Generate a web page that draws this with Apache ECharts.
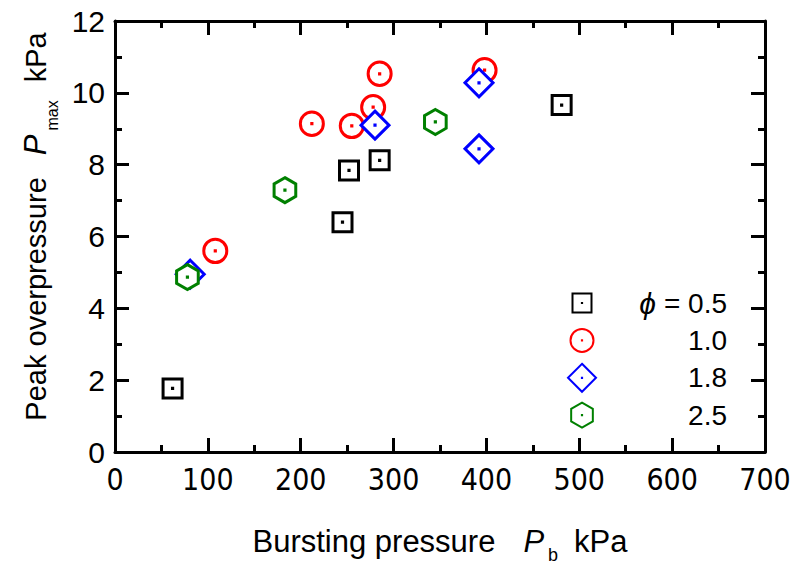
<!DOCTYPE html>
<html>
<head>
<meta charset="utf-8">
<script src="https://cdn.jsdelivr.net/npm/echarts@6/dist/echarts.min.js"></script>
<style>
  html, body { margin: 0; padding: 0; background: #fff; }
  #chart { width: 801px; height: 565px; }
</style>
</head>
<body>
<div id="chart"></div>
<script>
// Peak overpressure vs. bursting pressure, grouped by equivalence ratio phi
const phiLabels = ['0.5', '1.0', '1.8', '2.5'];

const burst05 = [62, 245, 252, 285, 481];
const peak05  = [1.77, 6.40, 7.84, 8.12, 9.66];

const burst10 = [108, 212, 255, 278, 285, 398];
const peak10  = [5.60, 9.14, 9.08, 9.60, 10.53, 10.63];

const burst18 = [81, 280, 392, 392];
const peak18  = [4.95, 9.10, 10.28, 8.44];

const burst25 = [78, 183, 345];
const peak25  = [4.87, 7.29, 9.19];

const xTicks = { min: 0, max: 700, step: 100 };
const yTicks = { min: 0, max: 12, step: 2 };

// Marker outlines share a fixed 32x32 frame (the two leading move-to points),
// so every shape keeps its own size; the tiny inner square becomes the centre dot.
const FRAME = 'M0,0 M32,32 ';
const DOT = ' M15.9,15.9 L16.1,15.9 L16.1,16.1 L15.9,16.1 Z';
const symSquare  = 'path://' + FRAME + 'M6.5,6.5 L25.5,6.5 L25.5,25.5 L6.5,25.5 Z' + DOT;
const symCircle  = 'path://' + FRAME + 'M4.5,16 A11.5,11.5 0 1 1 27.5,16 A11.5,11.5 0 1 1 4.5,16 Z' + DOT;
const symDiamond = 'path://' + FRAME + 'M16,2 L30,16 L16,30 L2,16 Z' + DOT;
const symHexagon = 'path://' + FRAME + 'M16,3.5 L26.83,9.75 L26.83,22.25 L16,28.5 L5.17,22.25 L5.17,9.75 Z' + DOT;

const groups = [
  { name: phiLabels[0], x: burst05, y: peak05, color: '#000000', symbol: symSquare },
  { name: phiLabels[1], x: burst10, y: peak10, color: '#ff0000', symbol: symCircle },
  { name: phiLabels[2], x: burst18, y: peak18, color: '#0000ff', symbol: symDiamond },
  { name: phiLabels[3], x: burst25, y: peak25, color: '#008000', symbol: symHexagon }
];

const SANS = "'Liberation Sans', Arial, sans-serif";
const NARROW = "'Liberation Sans Narrow', 'DejaVu Sans Condensed', sans-serif";

function axisCommon(showLabel, isX) {
  return {
    type: 'value',
    min: isX ? xTicks.min : yTicks.min,
    max: isX ? xTicks.max : yTicks.max,
    interval: isX ? xTicks.step : yTicks.step,
    axisLine: { show: true, onZero: false, lineStyle: { color: '#000', width: 3 } },
    axisTick: { show: true, inside: true, length: 14, lineStyle: { color: '#000', width: 3 } },
    minorTick: { show: true, splitNumber: 2, length: 7, lineStyle: { color: '#000', width: 3 } },
    splitLine: { show: false },
    minorSplitLine: { show: false },
    axisLabel: { show: showLabel, color: '#000', fontSize: 30, fontFamily: isX ? NARROW : SANS, margin: isX ? 12 : 10 }
  };
}

const chart = echarts.init(document.getElementById('chart'), null, { renderer: 'svg' });

chart.setOption({
  animation: false,
  backgroundColor: '#fff',
  grid: { left: 115, right: 36, top: 21, bottom: 113, containLabel: false, outerBoundsMode: 'none' },
  xAxis: [
    Object.assign(axisCommon(true, true), {
      position: 'bottom',
      name: '{n|Bursting pressure}{i|P}{s|b}{k|kPa}',
      nameLocation: 'middle',
      nameGap: 66,
      nameTextStyle: {
        color: '#000',
        rich: {
          n: { fontSize: 31, fontFamily: SANS, lineHeight: 46, color: '#000' },
          i: { fontSize: 31, fontFamily: SANS, fontStyle: 'italic', lineHeight: 46, padding: [0, 0, 0, 28], color: '#000' },
          s: { fontSize: 18, fontFamily: SANS, lineHeight: 14, verticalAlign: 'bottom', padding: [0, 0, 0, 4], color: '#000' },
          k: { fontSize: 31, fontFamily: SANS, lineHeight: 46, padding: [0, 0, 0, 16], color: '#000' }
        }
      }
    }),
    Object.assign(axisCommon(false, true), { position: 'top' })
  ],
  yAxis: [
    Object.assign(axisCommon(true, false), {
      position: 'left',
      name: '{n|Peak overpressure}{i|P}{s|max}{k|kPa}',
      nameLocation: 'middle',
      nameGap: 54,
      nameTextStyle: {
        color: '#000',
        padding: [0, 0, 0, 20],
        rich: {
          n: { fontSize: 29, fontFamily: SANS, lineHeight: 50, color: '#000' },
          i: { fontSize: 31, fontFamily: SANS, fontStyle: 'italic', lineHeight: 50, padding: [0, 0, 0, 22], color: '#000' },
          s: { fontSize: 16, fontFamily: SANS, lineHeight: 16, verticalAlign: 'bottom', padding: [0, 0, 0, 4], color: '#000' },
          k: { fontSize: 29, fontFamily: SANS, lineHeight: 50, padding: [0, 0, 0, 18], color: '#000' }
        }
      }
    }),
    Object.assign(axisCommon(false, false), { position: 'right' })
  ],
  legend: {
    orient: 'vertical',
    left: 560,
    top: 281,
    itemWidth: 32,
    itemHeight: 32,
    itemGap: 3.4,
    selectedMode: false,
    data: phiLabels,
    formatter: function (name) {
      return name === phiLabels[0] ? '{a|ϕ}{b|= ' + name + '}' : '{a| }{b|' + name + '}';
    },
    textStyle: {
      color: '#000',
      fontSize: 28,
      fontFamily: SANS,
      lineHeight: 32,
      rich: {
        a: { width: 53, align: 'right', fontSize: 30, fontStyle: 'italic', fontFamily: SANS, lineHeight: 32, color: '#000' },
        b: { width: 71, align: 'right', fontSize: 28, fontFamily: SANS, lineHeight: 32, color: '#000' }
      }
    }
  },
  series: groups.map(function (g) {
    return {
      name: g.name,
      type: 'scatter',
      xAxisIndex: 0,
      yAxisIndex: 0,
      symbol: g.symbol,
      symbolSize: 32,
      itemStyle: { color: '#ffffff', borderColor: g.color, borderWidth: 3, opacity: 1 },
      emphasis: { disabled: true },
      data: g.x.map(function (v, i) { return [v, g.y[i]]; })
    };
  })
});
</script>
</body>
</html>
